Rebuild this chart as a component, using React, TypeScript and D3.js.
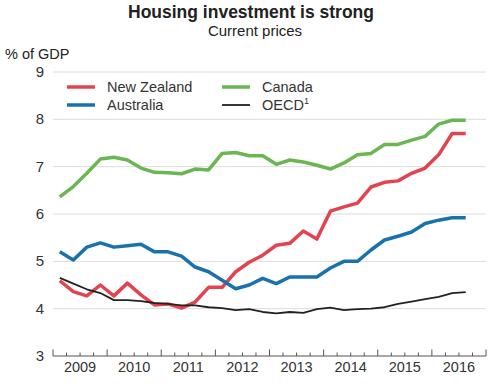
import React from 'react';
import * as d3 from 'd3';

const years = [2009, 2010, 2011, 2012, 2013, 2014, 2015, 2016];
const yTicks = [3, 4, 5, 6, 7, 8, 9];

// quarterly, 2009Q1 .. 2016Q3
const newZealand = [4.59, 4.36, 4.27, 4.5, 4.27, 4.54, 4.29, 4.08, 4.1, 4.01, 4.14, 4.45, 4.45, 4.78, 4.98, 5.13,
  5.34, 5.38, 5.64, 5.47, 6.06, 6.15, 6.23, 6.57, 6.67, 6.7, 6.86, 6.97, 7.25, 7.7, 7.7];
const australia = [5.2, 5.03, 5.3, 5.39, 5.3, 5.33, 5.36, 5.2, 5.2, 5.11, 4.88, 4.78, 4.6, 4.42, 4.5, 4.64,
  4.53, 4.67, 4.67, 4.67, 4.86, 5.0, 5.0, 5.24, 5.45, 5.53, 5.62, 5.8, 5.87, 5.92, 5.92];
const canada = [6.36, 6.58, 6.86, 7.16, 7.2, 7.14, 6.97, 6.88, 6.87, 6.85, 6.95, 6.93, 7.28, 7.3, 7.23, 7.23,
  7.05, 7.14, 7.1, 7.03, 6.95, 7.08, 7.25, 7.28, 7.47, 7.47, 7.56, 7.64, 7.9, 7.98, 7.98];
const oecd = [4.65, 4.53, 4.41, 4.33, 4.18, 4.18, 4.16, 4.12, 4.1, 4.07, 4.07, 4.03, 4.01, 3.97, 3.99, 3.93,
  3.9, 3.93, 3.91, 3.99, 4.02, 3.97, 3.99, 4.0, 4.03, 4.1, 4.15, 4.2, 4.25, 4.33, 4.35];

const series = [
  { name: 'New Zealand', values: newZealand, color: '#e2434f', width: 3.5 },
  { name: 'Australia', values: australia, color: '#1a72ad', width: 3.5 },
  { name: 'Canada', values: canada, color: '#6ab652', width: 3.5 },
  { name: 'OECD', values: oecd, color: '#222222', width: 1.8 },
];

const font = 'Liberation Sans, Arial, Helvetica, sans-serif';

export default function App() {
  const w = 500;
  const h = 386;
  const x = d3.scaleLinear().domain([2009, 2017]).range([53, 486]);
  const y = d3.scaleLinear().domain([3, 9]).range([356, 72]);

  const line = d3.line<number>()
    .x((_, i) => x(2009 + (i + 0.5) / 4))
    .y(d => y(d));

  const quarters = d3.range(2009, 2017.01, 0.25);

  const legend = [
    { s: series[0], lx: 67, ly: 87 },
    { s: series[1], lx: 67, ly: 105 },
    { s: series[2], lx: 222, ly: 87 },
    { s: series[3], lx: 222, ly: 105 },
  ];

  return (
    <svg width={w} height={h} style={{ position: 'absolute', left: 0, top: 0, background: '#fff' }}
      fontFamily={font}>
      <text x={251} y={17.5} textAnchor="middle" fontSize={17.5} fontWeight="bold" fill="#222">
        Housing investment is strong
      </text>
      <text x={255} y={36} textAnchor="middle" fontSize={15} fill="#222">Current prices</text>
      <text x={5} y={59} fontSize={14.5} fill="#222">% of GDP</text>

      {yTicks.map(t => (
        <g key={t}>
          {t > 3 && <line x1={53} x2={486} y1={y(t)} y2={y(t)} stroke="#dcdcdc" strokeWidth={1} />}
          <text x={44} y={y(t) + 5} textAnchor="end" fontSize={15} fill="#333">{t}</text>
        </g>
      ))}

      <line x1={53} x2={486} y1={y(3)} y2={y(3)} stroke="#555" strokeWidth={1} />
      {quarters.map((q, i) => (
        <line key={i} x1={x(q)} x2={x(q)} y1={y(3)} y2={y(3) - (i % 4 === 0 ? 6.5 : 3.5)}
          stroke="#555" strokeWidth={1} />
      ))}
      {years.map(yr => (
        <text key={yr} x={x(yr + 0.5)} y={372} textAnchor="middle" fontSize={14.5} fill="#333">{yr}</text>
      ))}

      {series.map(s => (
        <path key={s.name} d={line(s.values) ?? ''} fill="none" stroke={s.color}
          strokeWidth={s.width} strokeLinejoin="round" />
      ))}

      {legend.map(({ s, lx, ly }) => (
        <g key={s.name}>
          <line x1={lx} x2={lx + 28} y1={ly} y2={ly} stroke={s.color} strokeWidth={s.width} />
          <text x={lx + 40} y={ly + 5} fontSize={14.5} fill="#333">
            {s.name}
            {s.name === 'OECD' && <tspan fontSize={9} dy={-6}>1</tspan>}
          </text>
        </g>
      ))}
    </svg>
  );
}
